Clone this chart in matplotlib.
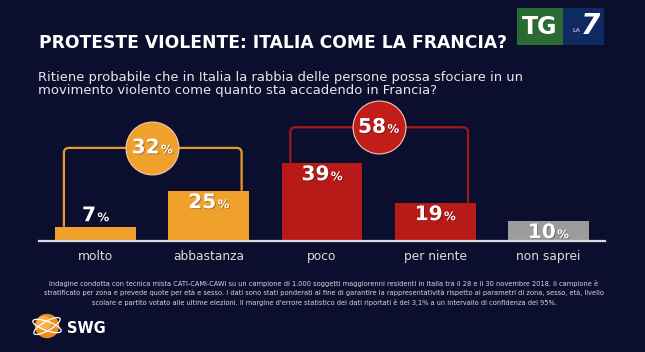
import matplotlib
matplotlib.use("Agg")
import matplotlib.pyplot as plt
import matplotlib.patheffects as pe
from matplotlib.path import Path
from matplotlib.patches import PathPatch, Rectangle, Circle, Ellipse
from matplotlib.offsetbox import TextArea, HPacker, AnnotationBbox

# Data
categories = ["molto", "abbastanza", "poco", "per niente", "non saprei"]
values = [7, 25, 39, 19, 10]
bar_colors = ["#f0a12b", "#f0a12b", "#b81b17", "#b81b17", "#9c9c9c"]
# groups: (first bar, last bar, total)
groups = [(0, 1, 32), (2, 3, 58)]
group_colors = ["#f0a12b", "#c11d19"]
bracket_colors = ["#e99b2a", "#9e1a1a"]
bracket_levels = [46.4, 56.7]

title = "PROTESTE VIOLENTE: ITALIA COME LA FRANCIA?"
question = ["Ritiene probabile che in Italia la rabbia delle persone possa sfociare in un",
            "movimento violento come quanto sta accadendo in Francia?"]
note = ["Indagine condotta con tecnica mista CATI-CAMI-CAWI su un campione di 1.000 soggetti maggiorenni residenti in Italia tra il 28 e il 30 novembre 2018. Il campione è",
        "stratificato per zona e prevede quote per età e sesso. I dati sono stati ponderati al fine di garantire la rappresentatività rispetto ai parametri di zona, sesso, età, livello",
        "scolare e partito votato alle ultime elezioni. Il margine d'errore statistico dei dati riportati è del 3,1% a un intervallo di confidenza del 95%."]

BG = "#0b0f2d"
W, H = 645, 352

fig = plt.figure(figsize=(6.45, 3.52), dpi=100, facecolor=BG)


def fx(px):
    return px / W


def fy(py):
    return 1 - py / H


shadow = [pe.withSimplePatchShadow(offset=(0.6, -0.6), shadow_rgbFace="black", alpha=0.35)]

# Header
fig.text(fx(39), fy(43.5), title, color="white", fontsize=12.3, fontweight="bold",
         family="DejaVu Sans", va="center", ha="left")
for i, line in enumerate(question):
    fig.text(fx(38), fy(77.5 + 13 * i), line, color="#e6e6ea", fontsize=9.45,
             family="DejaVu Sans", va="center", ha="left")

# TG LA7 logo
fig.patches.append(Rectangle((fx(517), fy(45)), fx(46), 37 / H, transform=fig.transFigure,
                             facecolor="#2a6a33", edgecolor="none"))
fig.patches.append(Rectangle((fx(563), fy(45)), fx(41), 37 / H, transform=fig.transFigure,
                             facecolor="#0e2a60", edgecolor="none"))
fig.text(fx(540), fy(27), "TG", color="white", fontsize=17, fontweight="bold",
         family="DejaVu Sans", ha="center", va="center")
fig.text(fx(576), fy(31), "LA", color="white", fontsize=4.5, family="DejaVu Sans",
         ha="center", va="center")
fig.text(fx(590), fy(26), "7", color="white", fontsize=20, fontweight="bold", style="italic",
         family="DejaVu Sans", ha="center", va="center")

# Bars
ax = fig.add_axes([fx(39), fy(240.7), fx(566), 140 / H])
ax.set_facecolor("none")
x = list(range(len(categories)))
ax.bar(x, values, width=0.715, color=bar_colors, zorder=2)
ax.set_xlim(-0.5, 4.5)
ax.set_ylim(0, 70)
for s in ["top", "left", "right"]:
    ax.spines[s].set_visible(False)
ax.spines["bottom"].set_color("#d7dbe4")
ax.spines["bottom"].set_linewidth(1.6)
ax.set_yticks([])
ax.set_xticks(x)
ax.set_xticklabels(categories, color="#dcdcdc", fontsize=8.8, family="DejaVu Sans")
ax.tick_params(axis="x", length=0, pad=7)


def pct_label(xp, yp, num, big, small):
    t1 = TextArea(str(num), textprops=dict(color="white", fontsize=big, fontweight="bold",
                                           family="DejaVu Sans", path_effects=shadow))
    t2 = TextArea("%", textprops=dict(color="white", fontsize=small, fontweight="bold",
                                      family="DejaVu Sans", path_effects=shadow))
    box = HPacker(children=[t1, t2], align="baseline", pad=0, sep=1)
    ab = AnnotationBbox(box, (xp, yp), xycoords="data", frameon=False,
                        box_alignment=(0.5, 0.5), annotation_clip=False, zorder=6)
    ax.add_artist(ab)


for xi, v in zip(x, values):
    yl = v + 5.5 if v < 8 else v - 6
    pct_label(xi, yl, v, 14.5, 8.5)

# Brackets with group totals
rx, ry = 0.045, 2.5
for (a, b, tot), bc, gc, lev in zip(groups, bracket_colors, group_colors, bracket_levels):
    x0, x1 = a - 0.28, b + 0.29
    verts = [(x0, values[a]), (x0, lev - ry), (x0, lev), (x0 + rx, lev),
             (x1 - rx, lev), (x1, lev), (x1, lev - ry), (x1, values[b])]
    codes = [Path.MOVETO, Path.LINETO, Path.CURVE3, Path.CURVE3,
             Path.LINETO, Path.CURVE3, Path.CURVE3, Path.LINETO]
    ax.add_patch(PathPatch(Path(verts, codes), facecolor="none", edgecolor=bc,
                           linewidth=1.6, zorder=3, clip_on=False))
    xm = (a + b) / 2
    ax.scatter([xm], [lev], s=1450, color=gc, edgecolors="#f3c8b8", linewidths=0.8,
               zorder=4, clip_on=False)
    pct_label(xm, lev, tot, 14.5, 8.5)

# Footnote
for i, line in enumerate(note):
    fig.text(fx(324), fy(283.3 + 9.5 * i), line, color="#d8d8dc", fontsize=4.8,
             family="DejaVu Sans", ha="center", va="center")

# SWG logo
lax = fig.add_axes([fx(28), fy(342), fx(40), 32 / H])
lax.set_xlim(0, 40)
lax.set_ylim(0, 32)
lax.set_aspect("equal")
lax.axis("off")
lax.add_patch(Circle((19, 16), 11.5, color="#ee8a22"))
lax.add_patch(Circle((16, 19), 6.5, color="#f7b04a"))
for ang in (30, -20):
    lax.add_patch(Ellipse((19, 16), 30, 9, angle=ang, facecolor="none",
                          edgecolor="white", linewidth=0.9))
fig.text(fx(67), fy(328.5), "SWG", color="white", fontsize=10.5, fontweight="bold",
         family="DejaVu Sans", ha="left", va="center")

fig.savefig("out.png", dpi=100, facecolor=BG)
